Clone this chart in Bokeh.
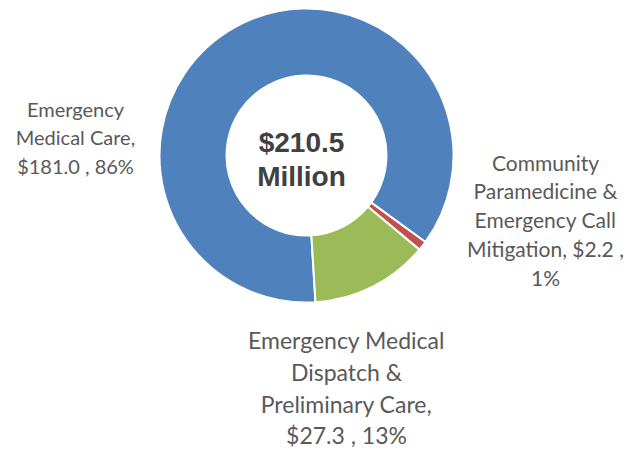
import math
from bokeh.plotting import figure
from bokeh.models import Range1d
from bokeh.core.properties import value
from bokeh.embed import file_html
from bokeh.resources import INLINE

# ---- data ----
categories = ["Emergency Medical Care",
              "Community Paramedicine & Emergency Call Mitigation",
              "Emergency Medical Dispatch & Preliminary Care"]
amounts = [181.0, 2.2, 27.3]
percents = [86, 1, 13]
colors = ["#4F81BD", "#C0504D", "#9BBB59"]
total_text = ["$210.5", "Million"]
label_lines = [
    ["Emergency", "Medical Care,", "$181.0 , 86%"],
    ["Community", "Paramedicine &", "Emergency Call", "Mitigation, $2.2 ,", "1%"],
    ["Emergency Medical", "Dispatch &", "Preliminary Care,", "$27.3 , 13%"],
]

# ---- layout (pixel coordinates of the page) ----
W, H = 625, 450
cx, cy = 306, -155
R_out, R_in = 147, 80
start_cw = 176.5  # degrees clockwise from top where the first slice starts

p = figure(width=W, height=H, output_backend="svg", toolbar_location=None,
           x_range=Range1d(0, W), y_range=Range1d(-H, 0),
           min_border=0, outline_line_color=None)
p.axis.visible = False
p.grid.visible = False
p.background_fill_color = "white"
p.border_fill_color = "white"

tot = sum(amounts)
starts, ends = [], []
acc = start_cw
for a in amounts:
    span = a / tot * 360.0
    s = math.radians(90 - acc)
    e = math.radians(90 - (acc + span))
    starts.append(s)
    ends.append(e)
    acc += span

p.annular_wedge(x=[cx] * 3, y=[cy] * 3, inner_radius=R_in, outer_radius=R_out,
                start_angle=starts, end_angle=ends, direction="clock",
                fill_color=colors, line_color="white", line_width=2)

# centre text
p.text(x=[301, 301], y=[-142, -176], text=total_text,
       text_font=value("Liberation Sans"), text_font_style="bold",
       text_font_size="28px", text_color="#404040",
       text_align="center", text_baseline="middle")

label_pos = [
    (75, [-108, -136, -165], "20px"),
    (545, [-162, -190, -219, -248, -277], "21px"),
    (346, [-339, -371, -403, -434], "23px"),
]
for lines, (lx, lys, fs) in zip(label_lines, label_pos):
    p.text(x=[lx] * len(lines), y=lys, text=lines,
           text_font=value("Lato"), text_font_size=fs, text_color="#595959",
           text_align="center", text_baseline="middle")

open("out.html", "w").write(file_html(p, INLINE))
